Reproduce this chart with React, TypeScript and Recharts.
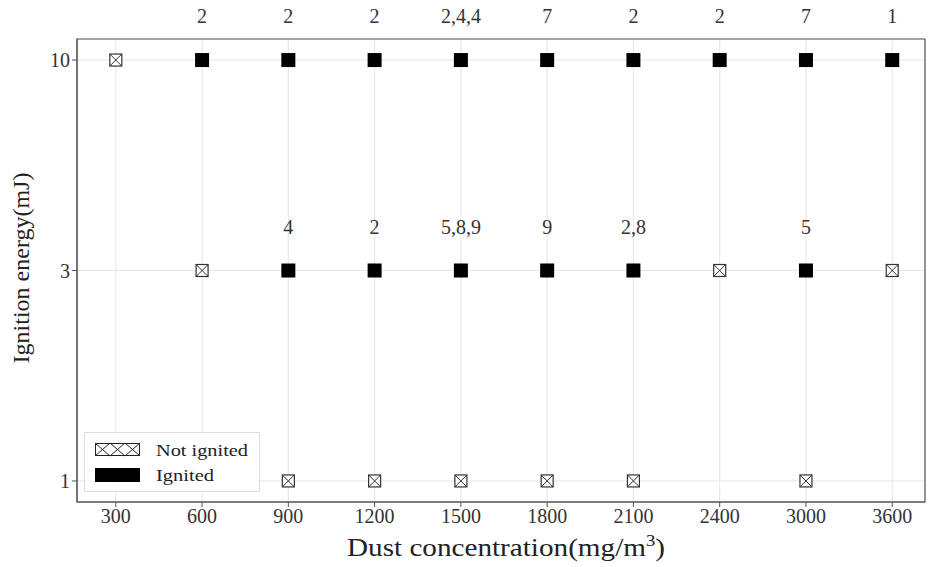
import React from "react"
import {
  ScatterChart,
  Scatter,
  XAxis,
  YAxis,
  CartesianGrid,
  ReferenceArea,
  LabelList,
} from "recharts"

const concentrations = ["300", "600", "900", "1200", "1500", "1800", "2100", "2400", "3000", "3600"]
const energies = ["1", "3", "10"]

// [concentration index, energy index, note]
const ignited: [number, number, string][] = [
  [1, 2, "2"], [2, 2, "2"], [3, 2, "2"], [4, 2, "2,4,4"], [5, 2, "7"],
  [6, 2, "2"], [7, 2, "2"], [8, 2, "7"], [9, 2, "1"],
  [2, 1, "4"], [3, 1, "2"], [4, 1, "5,8,9"], [5, 1, "9"], [6, 1, "2,8"], [8, 1, "5"],
]
const notIgnited: [number, number][] = [
  [0, 2],
  [1, 1], [7, 1], [9, 1],
  [2, 0], [3, 0], [4, 0], [5, 0], [6, 0], [8, 0],
]

const ignitedData = ignited.map(([x, y, note]) => ({ x, y, note }))
const notIgnitedData = notIgnited.map(([x, y]) => ({ x, y }))

const FONT = "'Liberation Serif', 'DejaVu Serif', serif"
const FRAME = "#555"

const FilledSquare = (props: any) => {
  const { cx, cy } = props
  return <rect x={cx - 7} y={cy - 7} width={14} height={14} fill="#000" />
}

const HatchSquare = (props: any) => {
  const { cx, cy } = props
  const s = 6
  return (
    <g>
      <rect x={cx - s} y={cy - s} width={2 * s} height={2 * s} fill="#fff" stroke="#333" strokeWidth={1.2} />
      <line x1={cx - s} y1={cy - s} x2={cx + s} y2={cy + s} stroke="#333" strokeWidth={1} />
      <line x1={cx - s} y1={cy + s} x2={cx + s} y2={cy - s} stroke="#333" strokeWidth={1} />
    </g>
  )
}

const NoteLabel = (props: any) => {
  const { x, y, width, height, value } = props
  const cx = x + width / 2
  const cy = y + height / 2
  return (
    <text x={cx} y={cy - 44} textAnchor="middle" dominantBaseline="central" fontFamily={FONT} fontSize={20} fill="#333">
      {value}
    </text>
  )
}

const LegendBox = () => (
  <svg width={177} height={61} style={{ position: "absolute", left: 84, top: 432 }}>
    <rect x={0.5} y={0.5} width={175} height={59} fill="rgba(255,255,255,0.85)" stroke="#ddd" />
    <rect x={11.5} y={11.5} width={44} height={12} fill="#fff" stroke="#222" />
    {[0, 15, 30].map((o) => (
      <g key={o}>
        <line x1={11 + o} y1={11} x2={26 + o} y2={24} stroke="#222" strokeWidth={1} />
        <line x1={11 + o} y1={24} x2={26 + o} y2={11} stroke="#222" strokeWidth={1} />
      </g>
    ))}
    <rect x={11} y={36} width={45} height={14} fill="#000" />
    <text x={72} y={18} dominantBaseline="central" fontFamily={FONT} fontSize={17} fill="#222" textLength={92} lengthAdjust="spacingAndGlyphs">
      Not ignited
    </text>
    <text x={72} y={43} dominantBaseline="central" fontFamily={FONT} fontSize={17} fill="#222" textLength={58} lengthAdjust="spacingAndGlyphs">
      Ignited
    </text>
  </svg>
)

const XLabel = () => (
  <text x={347} y={556} fontFamily={FONT} fontSize={25} fill="#222" textLength={318} lengthAdjust="spacingAndGlyphs">
    Dust concentration(mg/m
    <tspan dy={-10} fontSize={16}>3</tspan>
    <tspan dy={10}>)</tspan>
  </text>
)

const YLabel = () => (
  <text
    x={21}
    y={268}
    transform="rotate(-90 21 268)"
    textAnchor="middle"
    dominantBaseline="central"
    fontFamily={FONT}
    fontSize={24}
    fill="#222"
  >
    Ignition energy(mJ)
  </text>
)

export default function App() {
  return (
    <div style={{ position: "absolute", left: 0, top: 0, background: "#fff" }}>
      <ScatterChart width={929} height={567} margin={{ top: 39, right: 4, bottom: 0, left: 0 }}>
        <CartesianGrid stroke="#e6e6e6" strokeWidth={1} />
        <XAxis
          type="number"
          dataKey="x"
          domain={[-0.45, 9.38]}
          ticks={concentrations.map((_, i) => i)}
          tickFormatter={(v: number) => concentrations[v] ?? ""}
          allowDataOverflow
          height={65}
          stroke={FRAME}
          tickSize={5}
          tick={{ fontFamily: FONT, fontSize: 20, fill: "#333" }}
          label={<XLabel />}
        />
        <YAxis
          type="number"
          dataKey="y"
          domain={[-0.1, 2.1]}
          ticks={energies.map((_, i) => i)}
          tickFormatter={(v: number) => energies[v] ?? ""}
          allowDataOverflow
          width={77}
          stroke={FRAME}
          tickSize={5}
          tick={{ fontFamily: FONT, fontSize: 20, fill: "#333" }}
          label={<YLabel />}
        />
        <ReferenceArea x1={-0.45} x2={9.38} y1={-0.1} y2={2.1} fill="none" stroke={FRAME} strokeWidth={1.2} ifOverflow="visible" />
        <Scatter name="Not ignited" data={notIgnitedData} shape={<HatchSquare />} isAnimationActive={false} />
        <Scatter name="Ignited" data={ignitedData} shape={<FilledSquare />} isAnimationActive={false}>
          <LabelList dataKey="note" content={<NoteLabel />} />
        </Scatter>
      </ScatterChart>
      <LegendBox />
    </div>
  )
}
